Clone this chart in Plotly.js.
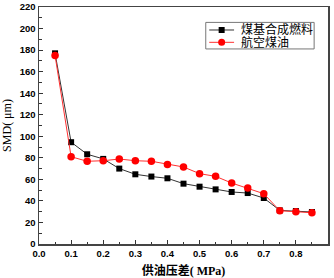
<!DOCTYPE html>
<html><head><meta charset="utf-8">
<script src="https://cdn.plot.ly/plotly-3.0.1.min.js"></script>
<style>html,body{margin:0;padding:0;background:#fff;}#c{width:334px;height:278px;}</style>
</head><body><div id="c"></div>
<script>
const pressure = [0.05,0.1,0.15,0.2,0.25,0.3,0.35,0.4,0.45,0.5,0.55,0.6,0.65,0.7,0.75,0.8,0.85];
const coalSynthetic = [177,94.5,83.3,79,70,64.7,62.6,61,56,53.2,50.7,48.3,47.3,42.7,31.2,30.6,29.7];
const aviationKerosene = [175,81,76.8,77.3,78.9,77.3,76.8,73.9,71.5,65.3,62.8,56.6,52,46.7,30.9,30,29];
const seriesNames = ["煤基合成燃料","航空煤油"];
const xTitle = "供油压差( MPa)";
const yTitle = "SMD( μm)";

const serif = "'Liberation Serif', 'Noto Sans CJK SC', serif";
const tickFont = {family:"'Liberation Sans', Arial, sans-serif", size:9.5, color:"#000", weight:"bold"};

const lineColors = ["#333", "#ff3030"];
const markerColors = ["#000", "#ff0000"];

const traces = [
  {x:pressure, y:coalSynthetic, name:seriesNames[0], mode:"lines+markers", type:"scatter",
   line:{color:lineColors[0], width:1}, marker:{symbol:"square", size:6, color:markerColors[0]}},
  {x:pressure, y:aviationKerosene, name:seriesNames[1], mode:"lines+markers", type:"scatter",
   line:{color:lineColors[1], width:1}, marker:{symbol:"circle", size:7.5, color:markerColors[1]}}
];

// compact legend (box, sample lines, markers, labels) in paper coordinates
const lg = {x0:0.577, x1:0.952, y0:0.823, y1:0.935, lineX0:0.589, lineX1:0.675, mX:0.632, textX:0.692, rows:[0.903, 0.851]};
const shapes = [
  {type:"rect", xref:"paper", yref:"paper", x0:lg.x0, x1:lg.x1, y0:lg.y0, y1:lg.y1, line:{color:"#777", width:1}, fillcolor:"#fff", layer:"above"}
];
const annotations = [];
seriesNames.forEach((n, i) => {
  const yy = lg.rows[i];
  shapes.push({type:"line", xref:"paper", yref:"paper", x0:lg.lineX0, x1:lg.lineX1, y0:yy, y1:yy, line:{color:lineColors[i], width:1}, layer:"above"});
  if (i === 0) {
    shapes.push({type:"rect", xref:"paper", yref:"paper", xsizemode:"pixel", ysizemode:"pixel", xanchor:lg.mX, yanchor:yy,
      x0:-3, x1:3, y0:-3, y1:3, fillcolor:markerColors[i], line:{width:0}, layer:"above"});
  } else {
    shapes.push({type:"circle", xref:"paper", yref:"paper", xsizemode:"pixel", ysizemode:"pixel", xanchor:lg.mX, yanchor:yy,
      x0:-3.5, x1:3.5, y0:-3.5, y1:3.5, fillcolor:markerColors[i], line:{width:0}, layer:"above"});
  }
  annotations.push({xref:"paper", yref:"paper", x:lg.textX, y:yy, text:n, showarrow:false, xanchor:"left", yanchor:"middle",
    font:{family:serif, size:12, color:"#000"}});
});

const layout = {
  width:334, height:278,
  margin:{l:39, r:6, t:7, b:34},
  paper_bgcolor:"#fff", plot_bgcolor:"#fff",
  showlegend:false,
  shapes:shapes, annotations:annotations,
  xaxis:{range:[0,0.9], tickvals:[0,0.1,0.2,0.3,0.4,0.5,0.6,0.7,0.8,0.9],
    ticktext:["0.0","0.1","0.2","0.3","0.4","0.5","0.6","0.7","0.8","0.9"],
    ticks:"inside", ticklen:4, tickwidth:1, tickcolor:"#333",
    minor:{dtick:0.05, tick0:0, ticks:"inside", ticklen:2.5, tickcolor:"#333", showgrid:false},
    showline:true, linecolor:"#444", linewidth:1.5, mirror:true,
    showgrid:false, zeroline:false, tickfont:tickFont,
    title:{text:xTitle, font:{family:serif, size:12, color:"#000", weight:"bold"}, standoff:8}},
  yaxis:{range:[0,220], tick0:0, dtick:20,
    ticks:"inside", ticklen:4, tickwidth:1, tickcolor:"#333",
    minor:{dtick:10, tick0:0, ticks:"inside", ticklen:2.5, tickcolor:"#333", showgrid:false},
    showline:true, linecolor:"#444", linewidth:1.5, mirror:true,
    showgrid:false, zeroline:false, tickfont:tickFont,
    title:{text:yTitle, font:{family:serif, size:12, color:"#000"}, standoff:5}}
};

Plotly.newPlot("c", traces, layout, {staticPlot:true, displayModeBar:false});
</script></body></html>
